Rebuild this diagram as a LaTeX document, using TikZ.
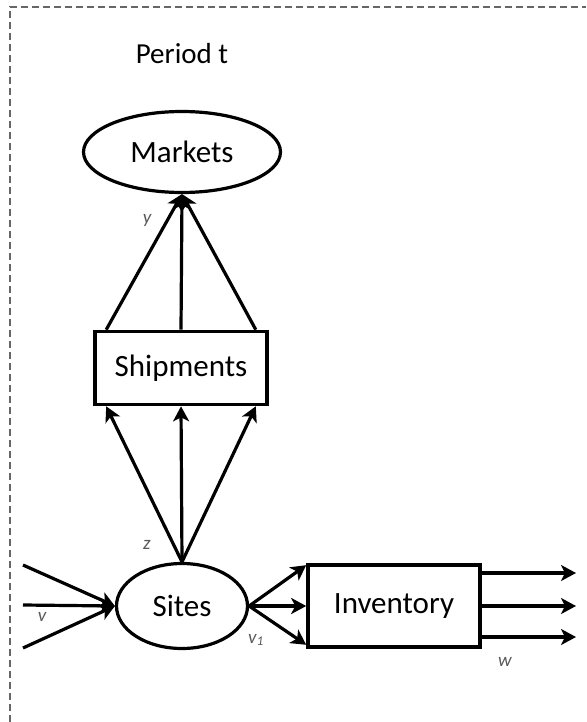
\documentclass[tikz,border=0pt]{standalone}
\usepackage{fontspec}
\setmainfont{Carlito}
\usetikzlibrary{arrows.meta,shapes.geometric}
\begin{document}
\begin{tikzpicture}[x=1pt,y=-1pt,
  ell/.style={ellipse, draw, line width=3.2pt, inner sep=0pt, font=\fontsize{31}{34}\selectfont},
  box/.style={rectangle, draw, line width=3.6pt, inner sep=0pt, font=\fontsize{31}{34}\selectfont},
  arr/.style={line width=3.2pt, -{Stealth[length=15pt,width=16pt,inset=4pt]}},
  lab/.style={font=\itshape\fontsize{19}{21}\selectfont, text=black!65}]
\useasboundingbox (0,0) rectangle (586,722);
\draw[black!60, line width=1.3pt, dash pattern=on 7pt off 4pt] (10,722) -- (10,7) -- (586,7);
\node[font=\fontsize{29}{32}\selectfont] (per) at (182,54) {Period t};
\node[ell, minimum width=197, minimum height=81] (mk) at (182,152) {Markets};
\node[box, minimum width=172, minimum height=73] (sh) at (181,368) {Shipments};
\node[ell, minimum width=131, minimum height=85] (si) at (182,606) {Sites};
\node[box, minimum width=172, minimum height=82] (inv) at (394,606) {Inventory};
\draw[arr] ([xshift=13pt]sh.north west) -- (mk.south);
\draw[arr] (sh.north) -- (mk.south);
\draw[arr] ([xshift=-13pt]sh.north east) -- (mk.south);
\draw[arr] (si.north) -- ([xshift=13pt]sh.south west);
\draw[arr] (si.north) -- (sh.south);
\draw[arr] (si.north) -- ([xshift=-13pt]sh.south east);
\coordinate (i1) at (23,565);
\coordinate (i2) at (23,605);
\coordinate (i3) at (23,648);
\draw[arr] (i1) -- (si.west);
\draw[arr] (i2) -- (si.west);
\draw[arr] (i3) -- (si.west);
\draw[arr] (si.east) -- ([yshift=-2pt]inv.north west);
\draw[arr] (si.east) -- (inv.west);
\draw[arr] (si.east) -- ([yshift=4pt]inv.south west);
\coordinate (o1) at (576,573);
\coordinate (o2) at (576,606);
\coordinate (o3) at (576,637);
\draw[arr] (inv.east |- o1) -- (o1);
\draw[arr] (inv.east |- o2) -- (o2);
\draw[arr] (inv.east |- o3) -- (o3);
\node[lab] (ly) at (147,220) {y};
\node[lab] (lz) at (147,545) {z};
\node[lab] (lv) at (42,617) {v};
\node[lab] (lv1) at (256,640) {v\textsubscript{1}};
\node[lab] (lw) at (505,662) {w};
\end{tikzpicture}
\end{document}
